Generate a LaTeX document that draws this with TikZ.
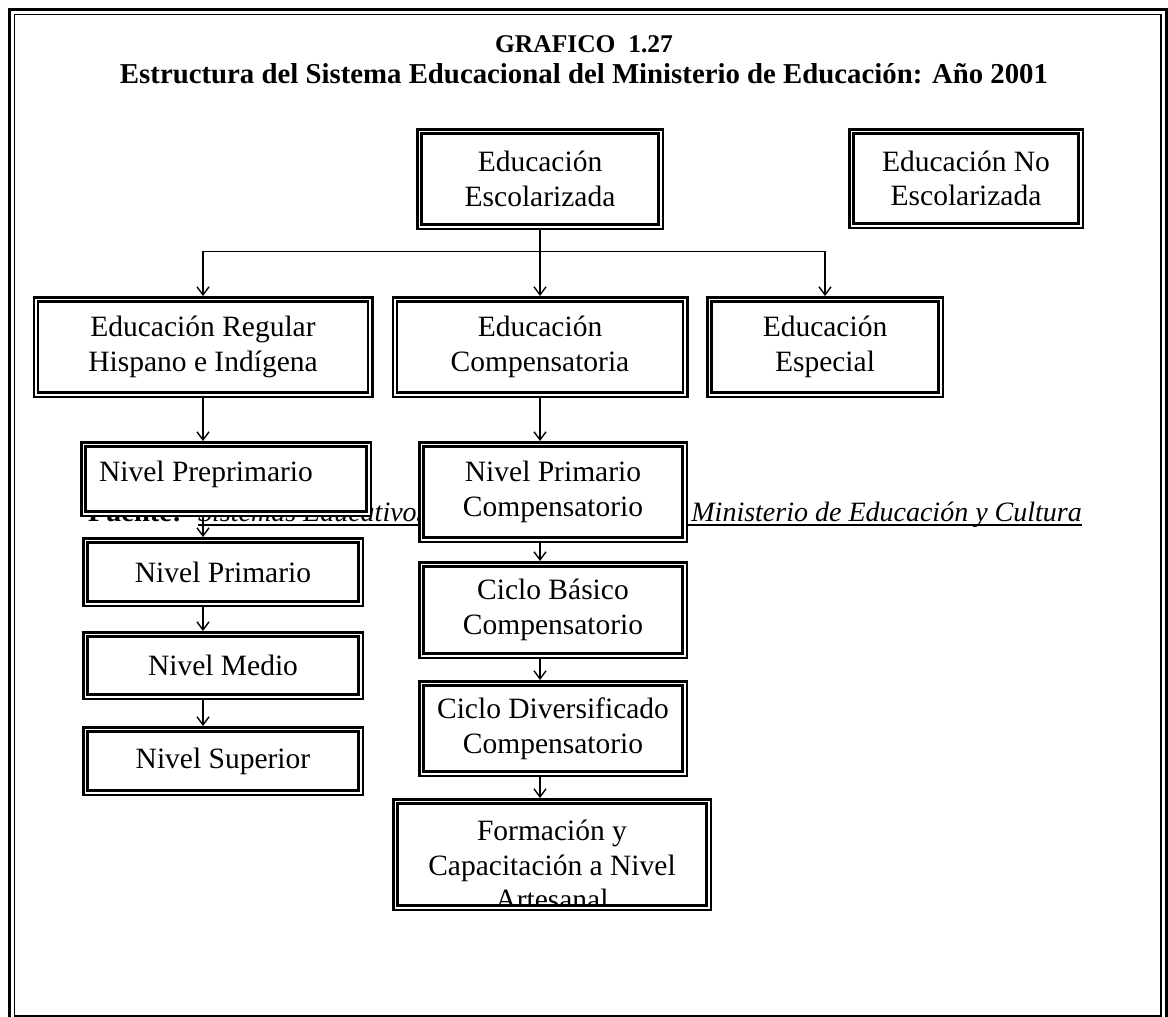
\documentclass[tikz,border=0pt]{standalone}
\usepackage{fontspec}
\setmainfont{Liberation Serif}
\usetikzlibrary{arrows.meta}
\begin{document}
\begin{tikzpicture}[x=1pt,y=-1pt,
  box/.style={draw, fill=white, line width=2.5pt, double, double distance=1.8pt,
    outer sep=3.4pt, inner sep=0pt, align=center,
    font=\fontsize{29.5}{34.5}\selectfont},
  txt/.style={inner sep=0pt, align=center, font=\fontsize{29.5}{34.5}\selectfont},
  arr/.style={line width=1.8pt, -{Straight Barb[length=8pt,width=12pt,line width=1.4pt]}},
  bus/.style={line width=0.9pt},
  ttl/.style={inner sep=0pt, font=\fontsize{25.5}{30}\selectfont\bfseries},
  src/.style={inner sep=0pt, font=\fontsize{28}{34}\selectfont}]
\useasboundingbox (0,0) rectangle (1168,1017);
% outer double frame
\draw[line width=3pt] (9.5,9.5) rectangle (1166.5,1040);
\draw[line width=1.6pt] (14.5,14.5) rectangle (1161,1016);
% title
\node[ttl] (t1) at (584,44) {GRAFICO\ \ 1.27};
\node[ttl, font=\fontsize{28.8}{32}\selectfont\bfseries] (t2) at (584,74) {Estructura del Sistema Educacional del Ministerio de Educación: Año 2001};
% source line (partly hidden by boxes)
\node[src, anchor=base west, font=\fontsize{28.5}{34}\selectfont\bfseries] (fu) at (88,521) {Fuente:};
\node[src, anchor=base west, font=\fontsize{28}{34}\selectfont\itshape] (fs) at (198,521) {Sistemas Educativos Nacionales};
\node[src, anchor=base east, font=\fontsize{28}{34}\selectfont\itshape] (fm) at (1082,521) {Ministerio de Educación y Cultura};
\draw[line width=1.4pt] ([yshift=-4pt]fs.base west) -- ([yshift=-4pt]fm.base east);
% boxes
\node[box, minimum width=241.2, minimum height=95.2] (esc) at (540,179) {Educación\\Escolarizada};
\node[box, minimum width=229.2, minimum height=94.2] (noesc) at (966,178.5) {Educación No\\Escolarizada};
\node[box, minimum width=334.2, minimum height=95.2] (reg) at (203,347) {Educación Regular\\Hispano e Indígena};
\node[box, minimum width=290.2, minimum height=95.2] (comp) at (540,347) {Educación\\Compensatoria};
\node[box, minimum width=231.2, minimum height=95.2] (esp) at (825,347) {Educación\\Especial};
\node[box, minimum width=285.2, minimum height=69.2] (prep) at (226,479) {};
\node[txt] (prepT) at (206,474) {Nivel Preprimario};
\node[box, minimum width=263.2, minimum height=95.2] (primc) at (553,492) {Nivel Primario\\Compensatorio};
\node[box, minimum width=275.2, minimum height=63.2] (prim) at (223,572) {Nivel Primario};
\node[box, minimum width=275.2, minimum height=62.2] (medio) at (223,665.5) {Nivel Medio};
\node[box, minimum width=275.2, minimum height=63.2] (sup) at (223,761) {Nivel Superior};
\node[box, minimum width=263.2, minimum height=91.2] (cbas) at (553,610) {Ciclo Básico\\Compensatorio};
\node[box, minimum width=263.2, minimum height=90.2] (cdiv) at (553,728.5) {Ciclo Diversificado\\Compensatorio};
\node[txt] (formT) at (552,865) {Formación y\\Capacitación a Nivel\\Artesanal};
\node[box, fill=none, minimum width=313.2, minimum height=106.2] (form) at (552,854.5) {};
% connectors
\coordinate (busc) at (540,251);
\draw[bus] (reg.north |- busc) -- (esp.north |- busc);
\draw[arr] (esc.south) -- (esc.south |- comp.north);
\draw[arr] (reg.north |- busc) -- (reg.north);
\draw[arr] (esp.north |- busc) -- (esp.north);
\draw[arr] (reg.south) -- (reg.south |- prep.north);
\draw[arr] (prep.south -| reg.south) -- (prim.north -| reg.south);
\draw[arr] (prim.south -| reg.south) -- (medio.north -| reg.south);
\draw[arr] (medio.south -| reg.south) -- (sup.north -| reg.south);
\draw[arr] (comp.south) -- (comp.south |- primc.north);
\draw[arr] (primc.south -| comp.south) -- (cbas.north -| comp.south);
\draw[arr] (cbas.south -| comp.south) -- (cdiv.north -| comp.south);
\draw[arr] (cdiv.south -| comp.south) -- (form.north -| comp.south);
\end{tikzpicture}
\end{document}
